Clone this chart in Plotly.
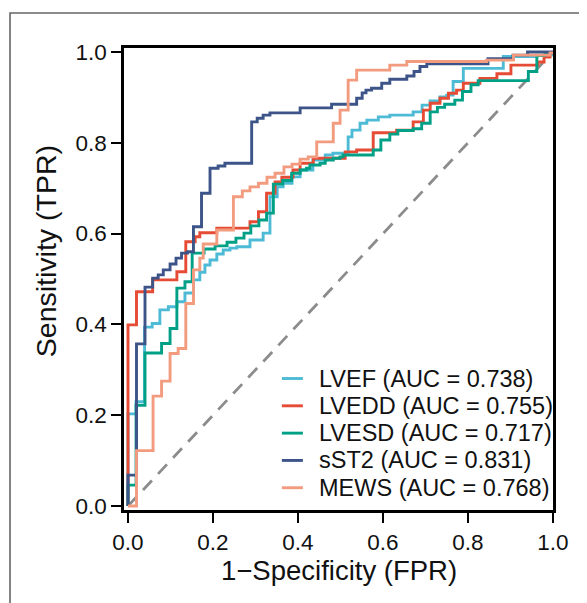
import plotly.graph_objects as go

# ---------------- data ----------------
names = ["LVEF", "LVEDD", "LVESD", "sST2", "MEWS"]
aucs = [0.738, 0.755, 0.717, 0.831, 0.768]
colors = ["#4DBBD5", "#E64B35", "#00A087", "#3C5488", "#F39B7F"]

fpr_lvef = [0, 0, 0.019, 0.039, 0.057, 0.075, 0.095, 0.115, 0.134, 0.154, 0.169, 0.181, 0.193, 0.209, 0.224,
            0.240, 0.256, 0.287, 0.318, 0.334, 0.351, 0.365, 0.386, 0.405, 0.435, 0.464, 0.482, 0.518, 0.527,
            0.546, 0.562, 0.589, 0.616, 0.671, 0.692, 0.711, 0.734, 0.750, 0.765, 0.789, 0.883, 0.962, 1.0]
tpr_lvef = [0, 0.203, 0.230, 0.394, 0.402, 0.432, 0.439, 0.450, 0.469, 0.498, 0.515, 0.531, 0.542, 0.555, 0.564,
            0.568, 0.571, 0.586, 0.601, 0.681, 0.703, 0.711, 0.725, 0.740, 0.762, 0.773, 0.777, 0.813, 0.828,
            0.843, 0.850, 0.857, 0.861, 0.868, 0.883, 0.892, 0.901, 0.905, 0.935, 0.964, 0.990, 0.993, 1.0]

fpr_lvedd = [0, 0, 0.020, 0.058, 0.115, 0.136, 0.158, 0.169, 0.209, 0.287, 0.307, 0.326, 0.346, 0.362, 0.388,
             0.405, 0.436, 0.511, 0.538, 0.577, 0.632, 0.671, 0.695, 0.711, 0.734, 0.754, 0.773, 0.789, 0.828,
             0.868, 0.901, 0.965, 0.979, 0.993, 1.0]
tpr_lvedd = [0, 0.399, 0.472, 0.498, 0.516, 0.582, 0.593, 0.602, 0.612, 0.626, 0.648, 0.689, 0.714, 0.724, 0.740,
             0.755, 0.766, 0.780, 0.784, 0.822, 0.828, 0.846, 0.872, 0.887, 0.898, 0.909, 0.916, 0.931, 0.942,
             0.952, 0.971, 0.978, 0.989, 0.998, 1.0]

fpr_lvesd = [0, 0, 0.019, 0.040, 0.079, 0.099, 0.115, 0.134, 0.151, 0.179, 0.205, 0.233, 0.254, 0.273, 0.289,
             0.308, 0.326, 0.342, 0.364, 0.385, 0.405, 0.420, 0.428, 0.452, 0.464, 0.483, 0.499, 0.506, 0.577,
             0.595, 0.616, 0.635, 0.671, 0.691, 0.711, 0.728, 0.745, 0.769, 0.787, 0.807, 0.824, 0.942, 0.962,
             0.981, 1.0]
tpr_lvesd = [0, 0.046, 0.222, 0.337, 0.358, 0.391, 0.480, 0.494, 0.557, 0.566, 0.573, 0.581, 0.590, 0.601, 0.617,
             0.630, 0.645, 0.709, 0.717, 0.733, 0.740, 0.744, 0.751, 0.755, 0.762, 0.766, 0.769, 0.773, 0.784,
             0.806, 0.819, 0.827, 0.831, 0.843, 0.868, 0.878, 0.885, 0.894, 0.913, 0.928, 0.937, 0.957, 0.992,
             0.998, 1.0]

fpr_sst2 = [0, 0, 0.020, 0.040, 0.058, 0.071, 0.083, 0.099, 0.113, 0.126, 0.140, 0.154, 0.173, 0.193, 0.212,
            0.228, 0.291, 0.304, 0.318, 0.334, 0.405, 0.479, 0.538, 0.551, 0.560, 0.573, 0.597, 0.616, 0.656,
            0.673, 0.687, 0.703, 0.847, 0.906, 0.94, 1.0]
tpr_sst2 = [0, 0.068, 0.357, 0.482, 0.502, 0.509, 0.520, 0.533, 0.546, 0.557, 0.560, 0.615, 0.689, 0.744, 0.749,
            0.755, 0.846, 0.854, 0.861, 0.866, 0.877, 0.885, 0.898, 0.910, 0.916, 0.920, 0.931, 0.940, 0.947,
            0.957, 0.968, 0.974, 0.985, 0.993, 1.0, 1.0]

fpr_mews = [0, 0.020, 0.059, 0.079, 0.099, 0.118, 0.136, 0.154, 0.169, 0.177, 0.209, 0.248, 0.269, 0.287, 0.307,
            0.327, 0.346, 0.367, 0.386, 0.405, 0.424, 0.444, 0.483, 0.499, 0.518, 0.538, 0.616, 0.656, 0.844,
            0.907, 0.993, 1.0]
tpr_mews = [0, 0.122, 0.242, 0.275, 0.336, 0.347, 0.446, 0.520, 0.546, 0.577, 0.608, 0.681, 0.694, 0.703, 0.711,
            0.724, 0.733, 0.747, 0.753, 0.764, 0.769, 0.802, 0.843, 0.872, 0.938, 0.960, 0.971, 0.979, 0.982,
            0.993, 0.998, 1.0]

ref_x = [0, 1]
ref_y = [0, 1]
tick_vals = [0.0, 0.2, 0.4, 0.6, 0.8, 1.0]
tick_text = ["0.0", "0.2", "0.4", "0.6", "0.8", "1.0"]
x_title = "1\u2212Specificity (FPR)"
y_title = "Sensitivity (TPR)"

fprs = [fpr_lvef, fpr_lvedd, fpr_lvesd, fpr_sst2, fpr_mews]
tprs = [tpr_lvef, tpr_lvedd, tpr_lvesd, tpr_sst2, tpr_mews]

FONT = "Liberation Sans, Arial, sans-serif"
LW = 2.9

fig = go.Figure()
fig.add_trace(go.Scatter(x=ref_x, y=ref_y, mode="lines", showlegend=False,
                         line=dict(color="#8C8C8C", width=2.8, dash="13px,9px")))
for n, f, t, c in zip(names, fprs, tprs, colors):
    fig.add_trace(go.Scatter(x=f, y=t, mode="lines", name=n, showlegend=False,
                             line=dict(color=c, width=LW, shape="hv")))

# manual legend (text as annotations, sample lines as shapes)
leg_x_line0, leg_x_line1, leg_x_text = 0.368, 0.417, 0.450
leg_y0, leg_dy = 0.2846, 0.0591
annotations = []
shapes = []
for i, (n, a, c) in enumerate(zip(names, aucs, colors)):
    yy = leg_y0 - i * leg_dy
    shapes.append(dict(type="line", xref="paper", yref="paper", x0=leg_x_line0, x1=leg_x_line1,
                       y0=yy, y1=yy, line=dict(color=c, width=LW)))
    annotations.append(dict(text=f"{n} (AUC = {a:.3f})", xref="paper", yref="paper", x=leg_x_text, y=yy,
                            xanchor="left", yanchor="middle", showarrow=False,
                            font=dict(family=FONT, size=23.5, color="#111111")))

annotations.append(dict(text=x_title, xref="paper", yref="paper", x=0.5, y=-0.132, xanchor="center",
                        yanchor="middle", showarrow=False, font=dict(family=FONT, size=27.5, color="#111111")))
annotations.append(dict(text=y_title, xref="paper", yref="paper", x=-0.182, y=0.56, xanchor="center",
                        yanchor="middle", textangle=-90, showarrow=False,
                        font=dict(family=FONT, size=28.5, color="#111111")))

# outer grey frame
shapes.append(dict(type="rect", xref="paper", yref="paper", x0=-0.2657, x1=1.2, y0=-0.3, y1=1.0758,
                   line=dict(color="#666666", width=1.6), fillcolor="rgba(0,0,0,0)", layer="below"))

axis_common = dict(showgrid=False, zeroline=False, showline=True, linecolor="black", linewidth=2.6,
                   mirror=True, ticks="outside", ticklen=10, tickwidth=2.3, tickcolor="black",
                   tickvals=tick_vals, ticktext=tick_text,
                   tickfont=dict(family=FONT, size=22.5, color="#111111"))

# page body has an 8px default margin: figure is sized/margined so the plot box lands where the reference has it
fig.update_layout(
    width=579, height=595,
    margin=dict(l=116, r=34, t=40, b=93),
    paper_bgcolor="white", plot_bgcolor="white",
    xaxis=dict(range=[-0.0094, 1.0], **axis_common),
    yaxis=dict(range=[-0.0088, 1.0088], **axis_common),
    annotations=annotations, shapes=shapes, showlegend=False,
)

fig.write_html("out.html")
